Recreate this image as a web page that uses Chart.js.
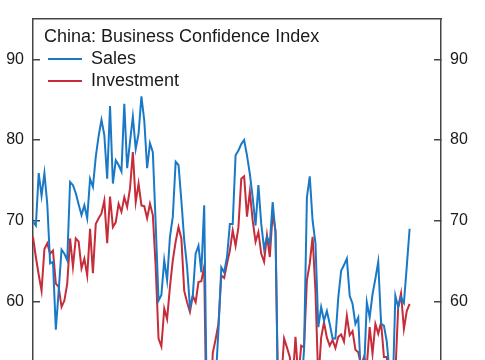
<!DOCTYPE html>
<html>
<head>
<meta charset="utf-8">
<script src="https://cdn.jsdelivr.net/npm/chart.js@4.4.1/dist/chart.umd.min.js"></script>
<style>
  html, body { margin: 0; padding: 0; background: #ffffff; overflow: hidden; }
  canvas { display: block; }
</style>
</head>
<body>
<canvas id="chart" width="485" height="560"></canvas>
<script>
// monthly axis, Jan 2015 .. Dec 2026 (data runs to Jan 2026)
const months = [];
for (let i = 0; i < 144; i++) {
  const yr = 2015 + Math.floor(i / 12);
  const mo = (i % 12) + 1;
  months.push(yr + '-' + (mo < 10 ? '0' + mo : mo));
}

const sales = [
  69.9, 69.4, 75.9, 73.1, 75.9, 72.1, 64.7, 64.9, 56.5, 61.3,
  66.4, 65.9, 65.1, 74.8, 74.4, 73.4, 72.0, 70.7, 71.9, 70.3,
  75.2, 74.2, 77.9, 80.5, 82.5, 80.6, 75.2, 84.2, 74.6, 77.5,
  76.9, 76.1, 84.5, 76.5, 79.8, 82.9, 78.9, 80.8, 85.4, 82.4,
  76.5, 79.6, 78.5, 69.6, 60.1, 60.8, 65.1, 62.6, 68.0, 70.5,
  77.3, 76.9, 72.5, 67.6, 64.3, 59.3, 60.7, 65.9, 66.9, 63.6,
  71.9, 45.0, 42.0, 45.0, 50.0, 56.5, 64.2, 63.6, 65.5, 69.6,
  69.6, 78.1, 78.7, 79.5, 80.0, 78.1, 75.8, 72.9, 69.4, 74.4,
  69.6, 66.5, 68.0, 67.2, 72.3, 68.4, 45.0, 42.0, 46.0, 47.0,
  45.0, 44.0, 46.0, 47.0, 49.0, 54.0, 72.9, 75.5, 70.0, 67.2,
  56.8, 59.3, 57.6, 58.8, 57.2, 55.4, 55.4, 60.5, 63.8, 64.5,
  65.3, 60.7, 59.7, 57.2, 58.0, 50.0, 51.0, 59.9, 58.0, 60.9,
  62.8, 64.9, 57.2, 57.0, 55.0, 51.0, 48.0, 60.7, 59.3, 60.5,
  59.8, 64.3, 69.0
];

const investment = [
  68.0, 65.5, 63.3, 61.3, 66.5, 67.2, 65.9, 66.3, 62.2, 61.8,
  59.3, 60.1, 62.2, 67.8, 64.3, 67.8, 67.4, 64.1, 65.3, 63.2,
  69.0, 63.5, 69.6, 70.3, 70.9, 72.5, 67.2, 73.0, 69.2, 69.8,
  72.1, 71.1, 72.9, 71.7, 74.0, 78.5, 72.3, 74.6, 71.9, 71.8,
  70.3, 72.1, 70.7, 64.3, 55.4, 54.4, 59.1, 57.8, 61.8, 65.1,
  67.4, 69.2, 67.8, 61.3, 59.9, 58.7, 60.7, 59.9, 62.4, 62.5,
  64.3, 40.0, 44.0, 53.6, 55.3, 57.2, 63.2, 62.9, 64.7, 66.3,
  68.8, 66.9, 69.2, 75.2, 75.5, 70.5, 73.6, 70.0, 67.4, 68.6,
  65.9, 64.9, 68.2, 65.5, 70.9, 68.8, 46.0, 50.0, 55.4, 54.3,
  53.1, 50.0, 55.6, 50.5, 54.5, 54.3, 62.6, 64.7, 68.0, 61.3,
  50.0, 55.5, 57.4, 55.5, 54.5, 55.2, 54.2, 55.6, 55.9, 55.0,
  58.2, 55.8, 56.3, 54.0, 53.7, 52.0, 53.1, 52.0, 56.8, 53.5,
  57.2, 56.0, 57.4, 53.1, 53.1, 50.0, 50.0, 51.0, 59.3, 61.0,
  56.6, 58.8, 59.7
];

const BLUE = '#1a79c6';
const RED = '#c62c39';
const FRAME = '#454545';
const FONT = "'Liberation Sans', Arial, sans-serif";

// legend sits inside the plot, a little in from the top-left corner
const legendNudge = {
  id: 'legendNudge',
  afterLayout(chart) {
    if (chart.legend) {
      chart.legend.left = chart.chartArea.left + 11;
      chart.legend.top = chart.chartArea.top;
    }
  }
};

const yAxis = (side, width) => ({
  type: 'linear',
  position: side,
  min: 30,
  max: 95,
  afterFit(scale) {
    scale.width = width;
    scale.paddingTop = 0;
    scale.paddingBottom = 0;
  },
  grid: {
    drawOnChartArea: false,
    drawTicks: true,
    tickLength: -7,
    color: FRAME,
    lineWidth: 1.5
  },
  border: { display: true, color: FRAME, width: 1.5 },
  ticks: {
    stepSize: 10,
    includeBounds: false,
    padding: 16,
    color: '#1a1a1a',
    font: { family: FONT, size: 16 }
  }
});

const ctx = document.getElementById('chart').getContext('2d');
new Chart(ctx, {
  type: 'line',
  data: {
    labels: months,
    datasets: [
      {
        label: 'Sales',
        data: sales,
        borderColor: BLUE,
        backgroundColor: BLUE,
        borderWidth: 2,
        pointRadius: 0,
        tension: 0
      },
      {
        label: 'Investment',
        data: investment,
        borderColor: RED,
        backgroundColor: RED,
        borderWidth: 2,
        pointRadius: 0,
        tension: 0
      }
    ]
  },
  options: {
    responsive: false,
    animation: false,
    devicePixelRatio: 1,
    layout: { padding: { top: 19, bottom: 16.6, left: 0, right: 0 } },
    scales: {
      x: { display: false },
      xTop: {
        type: 'category',
        position: 'top',
        afterFit(scale) {
          scale.height = 0;
          scale.paddingLeft = 0;
          scale.paddingRight = 0;
        },
        grid: { drawOnChartArea: false, drawTicks: false },
        border: { display: true, color: FRAME, width: 1.5 },
        ticks: { display: false }
      },
      y: yAxis('left', 33),
      yRight: yAxis('right', 44)
    },
    plugins: {
      legend: {
        position: 'chartArea',
        align: 'start',
        title: {
          display: true,
          text: 'China: Business Confidence Index',
          position: 'start',
          color: '#1a1a1a',
          font: { family: FONT, size: 18, lineHeight: 1 },
          padding: { top: 9, bottom: 0 }
        },
        labels: {
          usePointStyle: true,
          pointStyle: 'line',
          pointStyleWidth: 34,
          padding: 4,
          color: '#1a1a1a',
          font: { family: FONT, size: 18 }
        }
      },
      tooltip: { enabled: false }
    }
  },
  plugins: [legendNudge]
});
</script>
</body>
</html>
